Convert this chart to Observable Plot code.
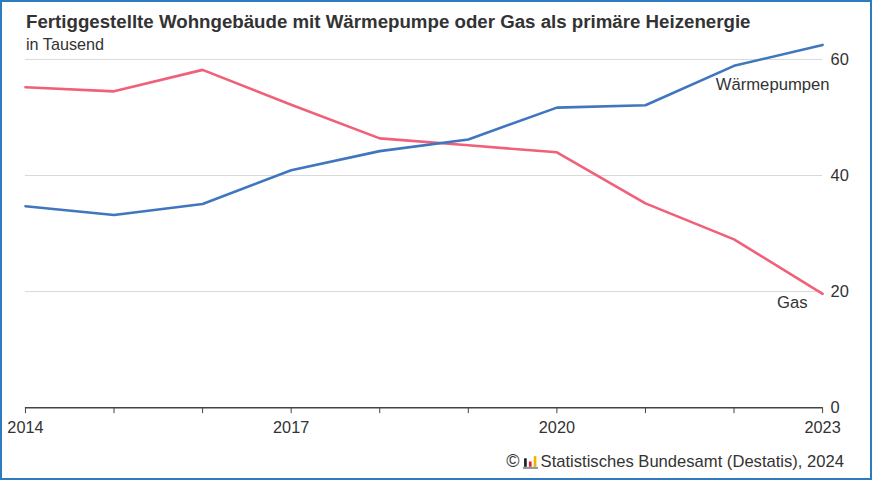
<!DOCTYPE html>
<html>
<head>
<meta charset="utf-8">
<script src="https://cdn.jsdelivr.net/npm/d3@7"></script>
<script src="https://cdn.jsdelivr.net/npm/@observablehq/plot@0.6"></script>
<style>
  html, body { margin: 0; padding: 0; background: #fff; }
  #frame { position: relative; width: 872px; height: 480px; box-sizing: border-box; border: 2px solid #2f7bc0; overflow: hidden; font-family: "Liberation Sans", Arial, sans-serif; color: #333; }
  #title { position: absolute; left: 24px; top: 9px; font-size: 18.7px; font-weight: bold; white-space: nowrap; }
  #subtitle { position: absolute; left: 24px; top: 33px; font-size: 16.2px; white-space: nowrap; }
  #chart { position: absolute; left: -4px; top: 28px; }
  #footer { position: absolute; right: 26px; top: 449px; font-size: 16.6px; white-space: nowrap; display: flex; align-items: center; gap: 3px; }
</style>
</head>
<body>
<div id="frame">
  <div id="title">Fertiggestellte Wohngebäude mit Wärmepumpe oder Gas als primäre Heizenergie</div>
  <div id="subtitle">in Tausend</div>
  <div id="chart"></div>
  <div id="footer"><span style="font-size:18px">©</span><svg width="15" height="15" viewBox="0 0 14 14"><rect x="1" y="4" width="2.5" height="8" fill="#222"/><rect x="5.5" y="7" width="2.5" height="5" fill="#d9232e"/><rect x="10" y="2" width="2.5" height="10" fill="#f0b400"/><rect x="0" y="12" width="14" height="2" fill="#999"/></svg><span>Statistisches Bundesamt (Destatis), 2024</span></div>
</div>
<script>
const years = [2014, 2015, 2016, 2017, 2018, 2019, 2020, 2021, 2022, 2023];
const waermepumpen = [34.7, 33.2, 35.1, 40.9, 44.2, 46.2, 51.7, 52.1, 58.9, 62.5];
const gas = [55.2, 54.5, 58.2, 52.2, 46.4, 45.2, 44.0, 35.2, 29.0, 19.6];
const yTicks = [0, 20, 40, 60];
const xLabelYears = [2014, 2017, 2020, 2023];

const blue = "#3f76bd";
const red = "#f06078";

const rows = [
  ...years.map((y, i) => ({year: y, value: gas[i], series: "Gas"})),
  ...years.map((y, i) => ({year: y, value: waermepumpen[i], series: "Wärmepumpen"}))
];

const plot = Plot.plot({
  width: 874,
  height: 420,
  marginLeft: 27,
  marginRight: 48,
  marginTop: 29,
  marginBottom: 42,
  style: {fontFamily: "'Liberation Sans', Arial, sans-serif", fontSize: "16px", color: "#333", background: "transparent"},
  x: {domain: [2014, 2023], label: null},
  y: {domain: [0, 60], label: null},
  marks: [
    Plot.gridY(yTicks.filter(d => d > 0), {stroke: "#d9d9d9", strokeOpacity: 1, strokeWidth: 1}),
    Plot.axisY(yTicks, {anchor: "right", tickSize: 0, tickPadding: 8, textAnchor: "start", fill: "#333", fontSize: 16.5, label: null}),
    Plot.ruleY([0], {stroke: "#444", strokeWidth: 1.5}),
    Plot.axisX(years, {anchor: "bottom", tickSize: 6, tickPadding: 8, stroke: "#444", fill: "#333", fontSize: 16.3, label: null,
      tickFormat: d => xLabelYears.includes(d) ? String(d) : ""}),
    Plot.line(rows, {x: "year", y: "value", z: "series", stroke: d => d.series === "Gas" ? red : blue, strokeWidth: 2.6}),
    Plot.text([{year: 2023, value: waermepumpen[waermepumpen.length - 1], t: "Wärmepumpen"}],
      {x: "year", y: "value", text: "t", textAnchor: "end", dx: 7, dy: 40, fill: "#333", fontSize: 16.7}),
    Plot.text([{year: 2023, value: gas[gas.length - 1], t: "Gas"}],
      {x: "year", y: "value", text: "t", textAnchor: "end", dx: -15, dy: 9, fill: "#333", fontSize: 16.7})
  ]
});
document.getElementById("chart").appendChild(plot);
</script>
</body>
</html>
